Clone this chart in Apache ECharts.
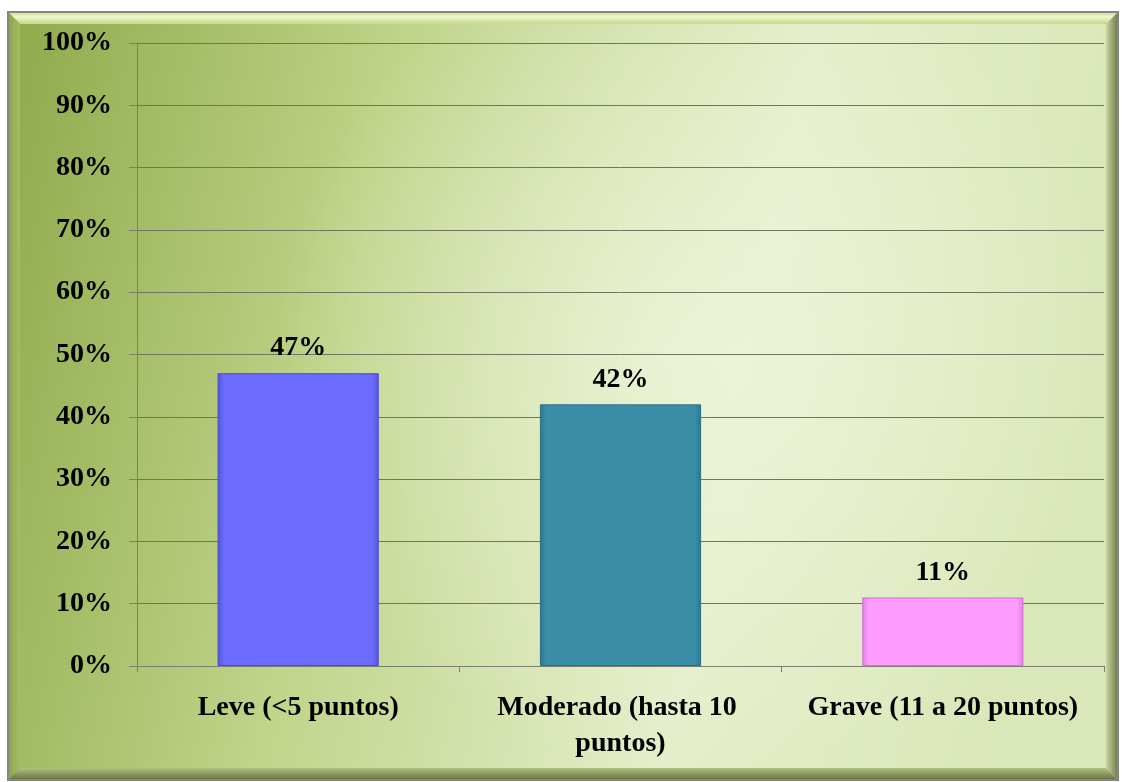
<!DOCTYPE html>
<html><head><meta charset="utf-8">
<script src="https://cdn.jsdelivr.net/npm/echarts@6/dist/echarts.min.js"></script>
<style>html,body{margin:0;padding:0;background:#fff}#c{width:1128px;height:782px}</style>
</head><body><div id="c"></div>
<script>
const categories = ['Leve (<5 puntos)', 'Moderado (hasta 10 puntos)', 'Grave (11 a 20 puntos)'];
const values = [47, 42, 11];
const barColors = ['#6b6bff', '#3a8ea8', '#ff9cff'];
const barEdges = ['#5454d8', '#2d7590', '#e07ee0'];
const barBorders = ['#4a4ad0', '#2a6f86', '#d070d0'];

const chart = echarts.init(document.getElementById('c'));
const font = '"Liberation Serif", "Times New Roman", serif';
const X0 = 8, Y0 = 12, X1 = 1118, Y1 = 780, B = 12;
chart.setOption({
  backgroundColor: '#ffffff',
  animation: false,
  graphic: [
    { type: 'rect', z: -10, shape: { x: X0, y: Y0, width: X1 - X0, height: Y1 - Y0 },
      style: { fill: { type: 'linear', x: 0, y: 0, x2: 1, y2: 0.3,
        colorStops: [{ offset: 0, color: '#8fa94a' }, { offset: 0.35, color: '#c0d48a' }, { offset: 0.7, color: '#e4eeca' }, { offset: 1, color: '#dae7b8' }] } } },
    { type: 'rect', z: -9, shape: { x: X0, y: Y0, width: X1 - X0, height: Y1 - Y0 },
      style: { fill: { type: 'radial', x: 0.62, y: 0.45, r: 0.55,
        colorStops: [{ offset: 0, color: 'rgba(240,246,222,0.7)' }, { offset: 1, color: 'rgba(240,246,222,0)' }] } } },
    { type: 'polygon', z: -8, shape: { points: [[X0, Y0], [X1, Y0], [X1 - B, Y0 + B], [X0 + B, Y0 + B]] },
      style: { fill: { type: 'linear', x: 0, y: 0, x2: 0, y2: 1, colorStops: [{ offset: 0, color: '#c8dc90' }, { offset: 0.4, color: '#eef8c8' }, { offset: 1, color: '#c4d88c' }] } } },
    { type: 'polygon', z: -8, shape: { points: [[X0, Y0], [X0 + B, Y0 + B], [X0 + B, Y1 - B], [X0, Y1]] },
      style: { fill: { type: 'linear', x: 0, y: 0, x2: 1, y2: 0, colorStops: [{ offset: 0, color: '#8aa24a' }, { offset: 1, color: '#a6bd64' }] } } },
    { type: 'polygon', z: -8, shape: { points: [[X1, Y0], [X1, Y1], [X1 - B, Y1 - B], [X1 - B, Y0 + B]] },
      style: { fill: { type: 'linear', x: 0, y: 0, x2: 1, y2: 0, colorStops: [{ offset: 0, color: '#c8d6a0' }, { offset: 1, color: '#6e7a4c' }] } } },
    { type: 'polygon', z: -8, shape: { points: [[X0, Y1], [X1, Y1], [X1 - B, Y1 - B], [X0 + B, Y1 - B]] },
      style: { fill: { type: 'linear', x: 0, y: 0, x2: 0, y2: 1, colorStops: [{ offset: 0, color: '#b0c080' }, { offset: 1, color: '#64703e' }] } } },
    { type: 'rect', z: -7, shape: { x: X0, y: Y0, width: X1 - X0, height: Y1 - Y0 },
      style: { fill: 'transparent', stroke: '#858585', lineWidth: 2 } }
  ],
  grid: { left: 137, right: 24, top: 43, bottom: 116, containLabel: false },
  xAxis: {
    type: 'category', data: categories,
    axisLine: { show: true, lineStyle: { color: '#7a7f70', width: 1 } },
    axisTick: { show: true, alignWithLabel: false, length: 6, lineStyle: { color: '#7a7f70' } },
    axisLabel: { color: '#000', fontFamily: font, fontWeight: 'bold', fontSize: 28, margin: 24,
      width: 300, overflow: 'break', lineHeight: 36, interval: 0 }
  },
  yAxis: {
    type: 'value', min: 0, max: 100, interval: 10,
    axisLine: { show: true, lineStyle: { color: '#7a7f70', width: 1 } },
    axisTick: { show: true, length: 8, lineStyle: { color: '#7a7f70' } },
    axisLabel: { color: '#000', fontFamily: font, fontWeight: 'bold', fontSize: 28, margin: 25,
      formatter: v => v + '%' },
    splitLine: { show: true, lineStyle: { color: '#6f7560', width: 1 } }
  },
  series: [{
    type: 'bar', barWidth: '50%',
    data: values.map((v, i) => ({ value: v, itemStyle: {
      color: { type: 'linear', x: 0, y: 0, x2: 1, y2: 0, colorStops: [
        { offset: 0, color: barEdges[i] }, { offset: 0.04, color: barColors[i] },
        { offset: 0.96, color: barColors[i] }, { offset: 1, color: barEdges[i] }] },
      borderColor: barBorders[i], borderWidth: 1 } })),
    label: { show: true, position: 'top', distance: 11, color: '#000', fontFamily: font,
      fontWeight: 'bold', fontSize: 28, formatter: p => p.value + '%' }
  }]
});
</script></body></html>
